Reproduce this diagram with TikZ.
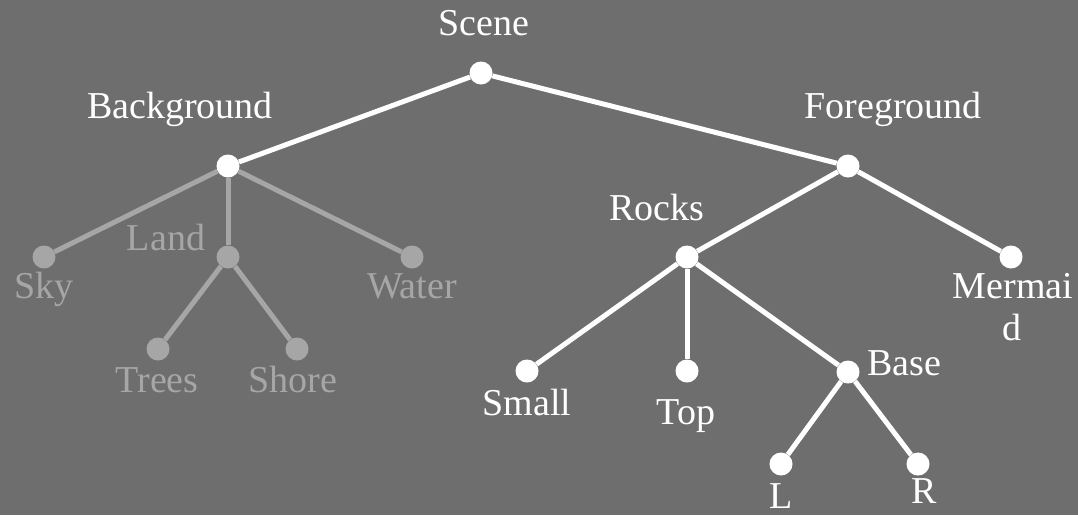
\documentclass[tikz,border=0pt]{standalone}
\usepackage{fontspec}
\setmainfont{Liberation Serif}
\usepackage{tikz}
\usetikzlibrary{positioning}
\definecolor{bgray}{HTML}{6E6E6E}
\definecolor{dimgray}{HTML}{A6A6A6}

\begin{document}
\begin{tikzpicture}[x=1pt,y=-1pt,font=\fontsize{38}{42}\selectfont,
  dot/.style={circle,fill=white,inner sep=0pt,minimum size=23pt},
  dimdot/.style={dot,fill=dimgray},
  txt/.style={anchor=base,text=white,inner sep=0pt},
  dimtxt/.style={txt,text=dimgray},
  edge/.style={draw=white,line width=5pt},
  dimedge/.style={edge,draw=dimgray}]
  \fill[bgray] (0,0) rectangle (1078,515);
  \useasboundingbox (0,0) rectangle (1078,515);
  % tree nodes
  \node[dot] (scene) at (481,73) {};
  \node[dot] (bg) at (228,166) {};
  \node[dot] (fg) at (848,166) {};
  \node[dimdot] (sky) at (44,257) {};
  \node[dimdot] (land) at (228,257) {};
  \node[dimdot] (water) at (412,257) {};
  \node[dimdot] (trees) at (158,349) {};
  \node[dimdot] (shore) at (297,349) {};
  \node[dot] (rocks) at (687,257) {};
  \node[dot] (mermaid) at (1011,257) {};
  \node[dot] (small) at (527,371) {};
  \node[dot] (top) at (687,371) {};
  \node[dot] (base) at (848,372) {};
  \node[dot] (l) at (781,464) {};
  \node[dot] (r) at (918,464) {};
  % labels
  \node[txt] (sceneL) at (484,35) {Scene};
  \node[txt] (bgL) at (180,118) {Background};
  \node[txt] (fgL) at (893,118) {Foreground};
  \node[dimtxt] (skyL) at (44,298) {Sky};
  \node[dimtxt] (landL) at (166,250) {Land};
  \node[dimtxt] (waterL) at (412,298) {Water};
  \node[dimtxt] (treesL) at (157,392) {Trees};
  \node[dimtxt] (shoreL) at (293,392) {Shore};
  \node[txt] (rocksL) at (657,220) {Rocks};
  \node[txt] (mermaidL) at (1013,298) {Mermai};
  \node[txt] (mermaidL2) at (1012,340) {d};
  \node[txt] (smallL) at (527,415) {Small};
  \node[txt] (topL) at (686,424) {Top};
  \node[txt] (baseL) at (904,375) {Base};
  \node[txt] (lL) at (781,508) {L};
  \node[txt] (rL) at (924,503) {R};
  % connectors
  \draw[edge] (scene) -- (bg);
  \draw[edge] (scene) -- (fg);
  \draw[dimedge] (bg) -- (sky);
  \draw[dimedge] (bg) -- (land);
  \draw[dimedge] (bg) -- (water);
  \draw[dimedge] (land) -- (trees);
  \draw[dimedge] (land) -- (shore);
  \draw[edge] (fg) -- (rocks);
  \draw[edge] (fg) -- (mermaid);
  \draw[edge] (rocks) -- (small);
  \draw[edge] (rocks) -- (top);
  \draw[edge] (rocks) -- (base);
  \draw[edge] (base) -- (l);
  \draw[edge] (base) -- (r);
\end{tikzpicture}
\end{document}
